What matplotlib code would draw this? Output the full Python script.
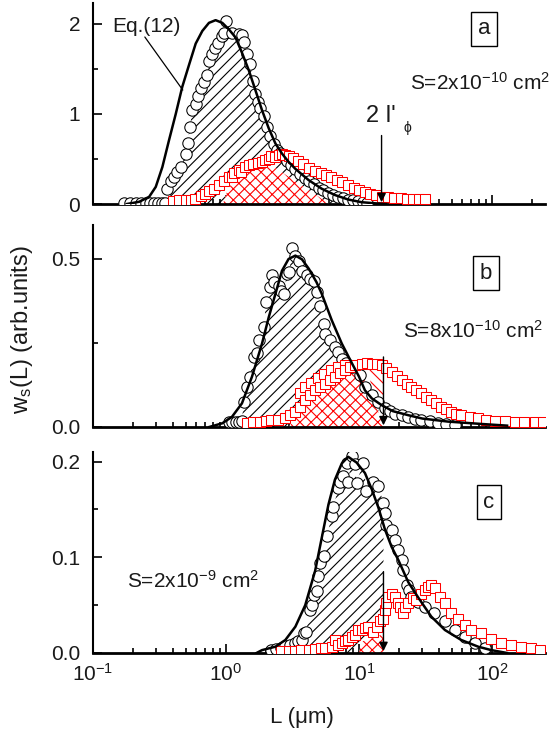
import matplotlib
matplotlib.use('Agg')
import matplotlib.pyplot as plt
import numpy as np
from matplotlib.ticker import LogLocator, NullFormatter, MultipleLocator, FormatStrFormatter

plt.rcParams['font.family'] = ['Liberation Sans', 'DejaVu Sans']
plt.rcParams['mathtext.default'] = 'regular'
plt.rcParams['hatch.linewidth'] = 0.8

# ---------------- panel a : S = 2e-10 cm^2 ----------------
curve_a_L = [0.18, 0.223, 0.265, 0.297, 0.333, 0.374, 0.42, 0.47, 0.53, 0.593, 0.665, 0.746,
             0.837, 0.94, 1.05, 1.18, 1.32, 1.49, 1.67, 1.87, 2.10, 2.36, 2.64, 2.95, 3.33,
             4.19, 5.25, 6.6, 8.3, 10.5, 13.2, 16.0]
curve_a_v = [0.0, 0.025, 0.08, 0.19, 0.41, 0.71, 1.00, 1.30, 1.55, 1.78, 1.92, 2.01,
             2.04, 2.01, 1.94, 1.85, 1.68, 1.48, 1.26, 1.04, 0.84, 0.67, 0.56, 0.47, 0.39,
             0.265, 0.17, 0.10, 0.05, 0.02, 0.008, 0.0]
circ_a_L = [0.17, 0.19, 0.21, 0.23, 0.25, 0.27, 0.29, 0.31, 0.33, 0.35,
            0.363, 0.385, 0.41, 0.43, 0.457, 0.50, 0.515, 0.537, 0.56, 0.593, 0.62, 0.646,
            0.684, 0.724, 0.746, 0.79, 0.83, 0.875, 0.93, 0.966, 1.01, 1.11, 1.25, 1.32,
            1.36, 1.44, 1.53, 1.59, 1.65, 1.75, 1.82, 1.93, 2.04, 2.16, 2.29, 2.42,
            2.55, 2.7, 2.9, 3.1, 3.3, 3.6, 3.9, 4.2, 4.6, 5.0, 5.4, 5.9, 6.4, 7.0, 7.6,
            8.3, 9.0, 9.8, 10.7, 11.6]
circ_a_v = [0.015, 0.015, 0.015, 0.015, 0.015, 0.015, 0.015, 0.015, 0.015, 0.015,
            0.17, 0.25, 0.30, 0.36, 0.41, 0.56, 0.68, 0.86, 1.04, 1.11, 1.20, 1.29,
            1.35, 1.43, 1.59, 1.66, 1.73, 1.79, 1.86, 1.90, 2.03, 1.90, 1.89, 1.87,
            1.80, 1.67, 1.55, 1.37, 1.22, 1.13, 1.06, 0.98, 0.85, 0.76, 0.67, 0.60,
            0.57, 0.53, 0.48, 0.43, 0.39, 0.33, 0.29, 0.26, 0.22, 0.18, 0.155, 0.125, 0.105,
            0.08, 0.065, 0.05, 0.04, 0.03, 0.022, 0.015]
sq_a_L = [0.40, 0.445, 0.50, 0.55, 0.59, 0.65, 0.70, 0.746, 0.81, 0.886, 0.96, 1.05, 1.11,
          1.15, 1.25, 1.30, 1.40, 1.49, 1.6, 1.75, 1.87, 1.98, 2.1, 2.2, 2.36, 2.5, 2.65,
          2.8, 3.0, 3.2, 3.5, 3.8, 4.2, 4.7, 5.2, 5.7, 6.2, 6.8, 7.5, 8.3, 9.2, 10.1, 11.1,
          12.2, 13.4, 14.8, 16.6, 18.5, 20.6, 23.0, 25.7, 28.5, 31.3]
sq_a_v = [0.03, 0.04, 0.045, 0.05, 0.06, 0.09, 0.11, 0.14, 0.17, 0.21, 0.25, 0.30, 0.30,
          0.34, 0.38, 0.36, 0.41, 0.43, 0.44, 0.46, 0.47, 0.49, 0.50, 0.53, 0.52, 0.54, 0.55,
          0.54, 0.53, 0.51, 0.48, 0.44, 0.40, 0.37, 0.34, 0.32, 0.30, 0.27, 0.24, 0.21, 0.18,
          0.16, 0.136, 0.115, 0.095, 0.08, 0.074, 0.068, 0.063, 0.058, 0.055, 0.053, 0.052]
cross_a_L = [0.95, 1.05, 1.4, 1.8, 2.1, 6.0]
cross_a_v = [0.0, 0.19, 0.35, 0.42, 0.45, 0.0]

# ---------------- panel b : S = 8e-10 cm^2 ----------------
curve_b_L = [0.75, 0.94, 1.11, 1.32, 1.57, 1.87, 2.10, 2.36, 2.64, 2.96, 3.33, 3.73, 4.2,
             4.8, 5.25, 6.25, 7.43, 8.84, 10.0, 11.1, 12.5, 14.8, 18.0, 23.5, 30.0, 46.7,
             83.0, 130.0]
curve_b_v = [0.0, 0.011, 0.03, 0.07, 0.149, 0.248, 0.326, 0.396, 0.464, 0.499, 0.509, 0.498,
             0.47, 0.43, 0.396, 0.317, 0.248, 0.19, 0.15, 0.109, 0.085, 0.065, 0.047, 0.035,
             0.025, 0.016, 0.009, 0.004]
circ_b_L = [1.05, 1.12, 1.19, 1.26, 1.32, 1.36, 1.44, 1.51, 1.62, 1.70, 1.77, 1.93, 2.0,
            2.16, 2.22, 2.3, 2.49, 2.6, 2.72, 2.88, 3.0, 3.14, 3.33, 3.52, 3.73, 4.07, 4.3,
            4.57, 4.83, 5.1, 5.42, 5.58, 6.08, 6.6, 7.0, 7.43, 8.0, 8.84, 10.2, 11.1, 12.5,
            14.0, 15.7, 17.2, 18.7, 21.0, 23.5, 26.3, 29.5, 34.0, 39.5, 45.5, 52.7]
circ_b_v = [0.016, 0.016, 0.016, 0.016, 0.018, 0.075, 0.119, 0.149, 0.208, 0.22, 0.257,
            0.297, 0.371, 0.415, 0.45, 0.43, 0.42, 0.405, 0.396, 0.455, 0.46, 0.533, 0.509,
            0.494, 0.464, 0.45, 0.44, 0.435, 0.40, 0.358, 0.307, 0.277, 0.257, 0.238, 0.223,
            0.203, 0.19, 0.178, 0.154, 0.119, 0.095, 0.075, 0.055, 0.047, 0.04, 0.035, 0.03,
            0.025, 0.021, 0.017, 0.013, 0.009, 0.006]
sq_b_L = [1.43, 1.6, 1.8, 2.0, 2.2, 2.45, 2.8, 3.05, 3.33, 3.6, 3.6, 3.95, 3.95, 4.3, 4.4,
          4.69, 4.9, 5.1, 5.5, 5.58, 6.08, 6.2, 6.6, 7.0, 7.2, 7.8, 7.88, 8.6, 9.35, 10.5,
          11.5, 12.5, 13.6, 14.8, 16.1, 17.6, 19.2, 20.9, 22.8, 24.8, 27.0, 29.5, 32.0, 35.0,
          38.0, 41.6, 45.0, 49.4, 54.0, 58.7, 68.0, 78.7, 91.0, 105.0, 125.0, 148.0, 175.0,
          209.0, 240.0]
sq_b_v = [0.013, 0.014, 0.016, 0.018, 0.02, 0.022, 0.026, 0.035, 0.045, 0.06, 0.10, 0.08,
          0.119, 0.095, 0.13, 0.109, 0.145, 0.12, 0.158, 0.129, 0.14, 0.168, 0.149, 0.177,
          0.16, 0.183, 0.169, 0.178, 0.183, 0.188, 0.189, 0.188, 0.186, 0.183, 0.175, 0.164,
          0.152, 0.139, 0.129, 0.119, 0.11, 0.10, 0.09, 0.08, 0.07, 0.06, 0.052, 0.045, 0.04,
          0.036, 0.03, 0.026, 0.022, 0.019, 0.017, 0.016, 0.016, 0.016, 0.016]
cross_b_L = [2.96, 3.6, 4.69, 5.9, 7.5, 9.9, 11.8, 15.3]
cross_b_v = [0.0, 0.04, 0.09, 0.145, 0.158, 0.166, 0.125, 0.0]
slash_b_L = [11.8, 15.3, 15.3, 12.5]
slash_b_v = [0.187, 0.185, 0.03, 0.10]

# ---------------- panel c : S = 2e-9 cm^2 ----------------
curve_c_L = [1.7, 1.87, 2.36, 2.8, 3.33, 3.95, 4.69, 5.25, 5.9, 6.6, 7.43, 8.3, 9.6, 11.1,
             12.5, 14.0, 15.7, 17.6, 19.8, 23.5, 27.9, 35.0, 44.3, 58.7, 78.7, 98.8, 130.0]
curve_c_v = [0.0, 0.003, 0.0066, 0.0136, 0.0275, 0.05, 0.086, 0.12, 0.155, 0.181, 0.198,
             0.205, 0.199, 0.188, 0.171, 0.152, 0.129, 0.111, 0.097, 0.074, 0.058, 0.038,
             0.024, 0.0136, 0.0066, 0.003, 0.0]
circ_c_L = [2.2, 2.4, 2.6, 2.8, 3.05, 3.3, 3.5, 3.73, 3.84, 4.0, 4.31, 4.45, 4.57, 4.8, 4.96,
            5.1, 5.5, 5.74, 6.25, 6.43, 7.0, 7.2, 7.63, 8.1, 8.3, 8.84, 9.35, 9.6, 10.8,
            11.4, 12.8, 14.0, 15.3, 15.7, 16.1, 17.6, 18.7, 19.8, 20.9, 21.6, 22.8, 24.0,
            24.8, 28.0, 31.3, 37.0, 44.3, 52.7, 62.6, 74.4, 88.0]
circ_c_v = [0.003, 0.004, 0.005, 0.007, 0.008, 0.01, 0.012, 0.0136, 0.021, 0.022, 0.045,
            0.05, 0.061, 0.065, 0.08, 0.094, 0.101, 0.122, 0.143, 0.153, 0.172, 0.179, 0.185,
            0.199, 0.179, 0.206, 0.197, 0.178, 0.199, 0.169, 0.179, 0.174, 0.157, 0.146,
            0.134, 0.129, 0.118, 0.108, 0.097, 0.087, 0.071, 0.066, 0.059, 0.053, 0.048,
            0.042, 0.033, 0.024, 0.017, 0.01, 0.005]
sq_c_L = [2.6, 2.96, 3.3, 3.7, 4.19, 4.7, 5.2, 5.58, 6.25, 6.6, 7.0, 7.43, 7.9, 8.3, 8.8,
          9.35, 9.9, 10.5, 11.1, 11.8, 12.8, 13.6, 14.4, 15.3, 15.7, 16.1, 16.6, 17.6, 18.7,
          19.8, 20.5, 21.3, 22.2, 23.5, 25.6, 27.0, 29.5, 31.3, 33.1, 35.0, 37.2, 40.5,
          44.3, 49.4, 55.6, 62.6, 70.0, 83.0, 98.8, 117.0, 139.0, 166.0, 197.0, 228.0]
sq_c_v = [0.002, 0.002, 0.002, 0.003, 0.003, 0.004, 0.005, 0.005, 0.0066, 0.0136, 0.008,
          0.01, 0.012, 0.0136, 0.017, 0.019, 0.024, 0.024, 0.026, 0.0275, 0.022, 0.0275,
          0.033, 0.035, 0.045, 0.052, 0.059, 0.062, 0.059, 0.052, 0.048, 0.042, 0.048, 0.052,
          0.057, 0.055, 0.062, 0.066, 0.069, 0.071, 0.068, 0.059, 0.052, 0.042, 0.035,
          0.029, 0.024, 0.021, 0.015, 0.01, 0.0084, 0.0066, 0.005, 0.003]
cross_c_L = [10.0, 10.5, 12.5, 15.3, 15.3]
cross_c_v = [0.0, 0.012, 0.015, 0.02, 0.0]

fig = plt.figure(figsize=(5.56, 7.40), dpi=100)
ax_a = fig.add_axes([0.167, 0.7243, 0.813, 0.2716])
ax_b = fig.add_axes([0.167, 0.4230, 0.813, 0.2730])
ax_c = fig.add_axes([0.167, 0.1176, 0.813, 0.2716])

panels = [
    (ax_a, curve_a_L, curve_a_v, circ_a_L, circ_a_v, sq_a_L, sq_a_v, cross_a_L, cross_a_v, 14.8, 2.23),
    (ax_b, curve_b_L, curve_b_v, circ_b_L, circ_b_v, sq_b_L, sq_b_v, cross_b_L, cross_b_v, 15.3, 0.6),
    (ax_c, curve_c_L, curve_c_v, circ_c_L, circ_c_v, sq_c_L, sq_c_v, cross_c_L, cross_c_v, 15.3, 0.21),
]

for ax, cL, cv, oL, ov, sL, sv, xL, xv, cut, ymax in panels:
    oL = np.array(oL)
    ov = np.array(ov)
    m = oL <= cut
    ax.fill_between(oL[m], 0, ov[m], facecolor='none', edgecolor='k', hatch='///', lw=0, zorder=1)
    ax.fill(xL, xv, facecolor='white', edgecolor='red', hatch='xxx', lw=0, zorder=2)
    ax.plot(oL, ov, 'o', ms=8.2, mfc='white', mec='k', mew=0.75, zorder=3)
    ax.plot(sL, sv, 's', ms=7.4, mfc='white', mec='red', mew=0.75, zorder=4)
    ax.plot(cL, cv, 'k-', lw=1.8, zorder=5)

    ax.set_xscale('log')
    ax.set_xlim(0.1, 250)
    ax.set_ylim(0, ymax)
    ax.xaxis.set_minor_locator(LogLocator(base=10, subs=np.arange(2, 10)))
    ax.xaxis.set_minor_formatter(NullFormatter())
    for s in ['top', 'right']:
        ax.spines[s].set_visible(False)
    ax.spines['bottom'].set_linewidth(2.0)
    ax.spines['left'].set_linewidth(1.5)
    ax.tick_params(which='both', direction='in', top=False, right=False,
                   labelsize=15, labelcolor='#1a1a1a', width=1.2)
    ax.tick_params(which='major', length=6.5)
    ax.tick_params(which='minor', length=3.8)
    ax.tick_params(axis='y', pad=9)
    ax.tick_params(axis='x', pad=7)

ax_b.fill(slash_b_L, slash_b_v, facecolor='white', edgecolor='red', hatch='\\\\\\', lw=0, zorder=2)

ax_a.yaxis.set_major_locator(MultipleLocator(1))
ax_a.yaxis.set_minor_locator(MultipleLocator(0.5))
ax_a.yaxis.set_major_formatter(FormatStrFormatter('%d'))
ax_b.yaxis.set_major_locator(MultipleLocator(0.5))
ax_b.yaxis.set_minor_locator(MultipleLocator(0.25))
ax_b.yaxis.set_major_formatter(FormatStrFormatter('%.1f'))
ax_c.yaxis.set_major_locator(MultipleLocator(0.1))
ax_c.yaxis.set_minor_locator(MultipleLocator(0.05))
ax_c.yaxis.set_major_formatter(FormatStrFormatter('%.1f'))
ax_a.tick_params(labelbottom=False)
ax_b.tick_params(labelbottom=False)

# arrows at 2 l'phi
arr = dict(arrowstyle='-|>', color='k', lw=1.0, mutation_scale=13, shrinkA=0, shrinkB=0)
ax_a.annotate('', xy=(14.8, 0.02), xytext=(14.8, 0.76), arrowprops=arr, zorder=6)
ax_b.annotate('', xy=(15.3, 0.005), xytext=(15.3, 0.208), arrowprops=arr, zorder=6)
ax_c.annotate('', xy=(15.3, 0.002), xytext=(15.3, 0.085), arrowprops=arr, zorder=6)

txt = dict(color='#1a1a1a')
ax_a.text(0.605, 0.408, "2 l'", transform=ax_a.transAxes, fontsize=17, **txt)
ax_a.text(0.688, 0.36, "ϕ", transform=ax_a.transAxes, fontsize=10, **txt)
ax_a.text(0.044, 0.856, 'Eq.(12)', transform=ax_a.transAxes, fontsize=15, **txt)
ax_a.annotate('', xy=(0.199, 0.567), xytext=(0.115, 0.831), xycoords='axes fraction',
              arrowprops=dict(arrowstyle='-', lw=0.9, color='k', shrinkA=0, shrinkB=0))

ax_a.text(0.701, 0.567, r'S=2x10$^{-10}$ cm$^{2}$', transform=ax_a.transAxes, fontsize=15, **txt)
ax_b.text(0.686, 0.44, r'S=8x10$^{-10}$ cm$^{2}$', transform=ax_b.transAxes, fontsize=15, **txt)
ax_c.text(0.075, 0.323, r'S=2x10$^{-9}$ cm$^{2}$', transform=ax_c.transAxes, fontsize=15, **txt)

box = dict(boxstyle='square,pad=0.3', fc='white', ec='k', lw=1.0)
ax_a.text(0.865, 0.871, 'a', transform=ax_a.transAxes, fontsize=16, ha='center', va='center', bbox=box, **txt)
ax_b.text(0.869, 0.762, 'b', transform=ax_b.transAxes, fontsize=16, ha='center', va='center', bbox=box, **txt)
ax_c.text(0.876, 0.751, 'c', transform=ax_c.transAxes, fontsize=16, ha='center', va='center', bbox=box, **txt)

fig.text(0.04, 0.554, r'w$_s$(L) (arb.units)', rotation=90, ha='center', va='center', fontsize=17, **txt)
fig.text(0.543, 0.03, 'L (μm)', ha='center', va='center', fontsize=16, **txt)

fig.savefig('out.png', dpi=100)
